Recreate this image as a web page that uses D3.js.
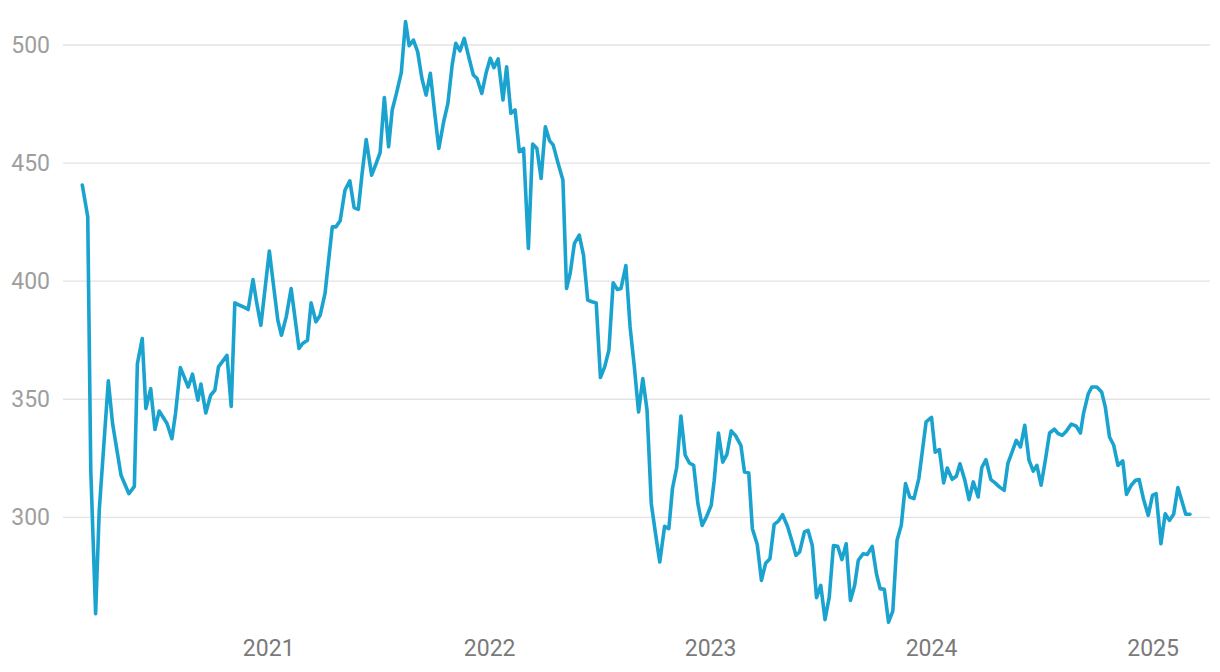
<!DOCTYPE html>
<html>
<head>
<meta charset="utf-8">
<script src="https://cdn.jsdelivr.net/npm/d3@7"></script>
<style>
  html, body { margin: 0; padding: 0; background: #ffffff; }
  svg { display: block; font-family: Roboto, "Noto Sans", sans-serif; }
</style>
</head>
<body>
<svg id="chart" width="1220" height="672"></svg>
<script>
const dates = [
"2020-02-28","2020-03-08","2020-03-13","2020-03-21","2020-03-27","2020-04-11","2020-04-18","2020-05-02","2020-05-15","2020-05-24",
"2020-05-29","2020-06-06","2020-06-12","2020-06-20","2020-06-27","2020-07-04","2020-07-17","2020-07-25","2020-07-31","2020-08-08",
"2020-08-21","2020-08-28","2020-09-06","2020-09-11","2020-09-19","2020-09-27","2020-10-04","2020-10-10","2020-10-24","2020-10-31",
"2020-11-06","2020-11-14","2020-11-21","2020-11-28","2020-12-06","2020-12-12","2020-12-19","2020-12-26","2021-01-02","2021-01-09",
"2021-01-16","2021-01-22","2021-01-30","2021-02-07","2021-02-20","2021-02-26","2021-03-06","2021-03-12","2021-03-20","2021-03-27",
"2021-04-04","2021-04-10","2021-04-16","2021-04-22","2021-04-29","2021-05-07","2021-05-15","2021-05-22","2021-05-29","2021-06-04",
"2021-06-11","2021-06-20","2021-06-27","2021-07-04","2021-07-11","2021-07-18","2021-07-24","2021-07-31","2021-08-08","2021-08-15",
"2021-08-21","2021-08-28","2021-09-04","2021-09-11","2021-09-18","2021-09-25","2021-10-02","2021-10-09","2021-10-17","2021-10-24",
"2021-10-31","2021-11-06","2021-11-13","2021-11-20","2021-11-28","2021-12-05","2021-12-11","2021-12-19","2021-12-26","2022-01-02",
"2022-01-08","2022-01-15","2022-01-23","2022-01-29","2022-02-05","2022-02-12","2022-02-19","2022-02-26","2022-03-06","2022-03-13",
"2022-03-20","2022-03-27","2022-04-03","2022-04-10","2022-04-16","2022-04-24","2022-05-02","2022-05-08","2022-05-14","2022-05-21",
"2022-05-29","2022-06-05","2022-06-12","2022-06-19","2022-06-26","2022-07-03","2022-07-10","2022-07-17","2022-07-24","2022-07-31",
"2022-08-06","2022-08-14","2022-08-21","2022-08-28","2022-09-04","2022-09-11","2022-09-18","2022-09-25","2022-10-02","2022-10-09",
"2022-10-17","2022-10-24","2022-10-30","2022-11-06","2022-11-13","2022-11-20","2022-11-27","2022-12-04","2022-12-11","2022-12-18",
"2022-12-25","2023-01-02","2023-01-07","2023-01-14","2023-01-21","2023-01-28","2023-02-04","2023-02-11","2023-02-20","2023-02-26",
"2023-03-05","2023-03-11","2023-03-19","2023-03-26","2023-04-02","2023-04-09","2023-04-16","2023-04-23","2023-04-30","2023-05-08",
"2023-05-15","2023-05-22","2023-05-28","2023-06-05","2023-06-11","2023-06-18","2023-06-25","2023-07-02","2023-07-09","2023-07-16",
"2023-07-23","2023-07-30","2023-08-06","2023-08-13","2023-08-20","2023-08-27","2023-09-02","2023-09-10","2023-09-17","2023-09-25",
"2023-10-02","2023-10-08","2023-10-15","2023-10-22","2023-10-29","2023-11-05","2023-11-12","2023-11-19","2023-11-26","2023-12-03",
"2023-12-11","2023-12-17","2023-12-23","2024-01-01","2024-01-07","2024-01-14","2024-01-21","2024-01-27","2024-02-04","2024-02-11",
"2024-02-17","2024-02-25","2024-03-03","2024-03-10","2024-03-18","2024-03-24","2024-03-31","2024-04-08","2024-04-15","2024-04-22",
"2024-04-30","2024-05-06","2024-05-13","2024-05-20","2024-05-27","2024-06-03","2024-06-10","2024-06-17","2024-06-23","2024-06-30",
"2024-07-07","2024-07-14","2024-07-22","2024-07-28","2024-08-04","2024-08-11","2024-08-19","2024-08-27","2024-09-03","2024-09-08",
"2024-09-16","2024-09-22","2024-09-30","2024-10-08","2024-10-14","2024-10-21","2024-10-28","2024-11-04","2024-11-12","2024-11-18",
"2024-11-26","2024-12-03","2024-12-09","2024-12-16","2024-12-24","2024-12-31","2025-01-06","2025-01-14","2025-01-21","2025-01-28",
"2025-02-04","2025-02-11","2025-02-24","2025-03-03"
];

const values = [
440.7,427.3,320,259.2,303,357.8,339.7,317.8,310,313.1,
365.1,375.7,346.1,354.5,337.2,345,339.7,333.3,344,363.4,
355.2,360.6,349.6,356.4,344.2,351.7,353.8,363.7,368.6,347,
390.8,389.8,389,388,400.7,391,381.3,397,412.8,398,
383.5,377.1,385,396.9,371.5,373.6,375,390.8,382.8,385.6,
394.8,409,423,423,425.6,438.6,442.5,431.2,430.4,445,
460,444.9,449.5,454.4,477.8,456.9,472.5,479.5,488.3,509.9,
499.7,502.1,497.2,485.9,478.8,488,471.7,456.2,467.5,475.3,
491.5,500.7,497.5,502.8,494.4,487.3,485.9,479.5,488,494.4,
490.4,494.1,476.7,490.8,471.1,472.5,454.8,456.2,413.9,458.1,
456.2,443.5,465.4,459.5,457.6,449.9,442.8,396.9,403.3,416,
419.5,411,392,391.3,390.8,359.2,363.7,370.8,399.3,396.5,
396.9,406.6,380.6,363.7,344.6,358.8,345.3,305.8,293.1,281.1,
296.2,295.2,312.2,321.1,342.9,326.3,323,322,305.8,296.6,
300.1,305.1,315.7,335.7,323.4,326.7,336.6,334.7,330.5,319.2,
318.8,295.2,288.6,273.3,280.6,282.5,297,298.4,301.1,296.2,
290.3,283.9,285.3,293.8,294.5,288.1,266,271.2,256.7,266.2,
288.1,287.7,282.1,288.8,264.8,271.2,281.8,284.6,284.3,287.7,
276.1,269.8,269.5,255.6,260.3,290.3,296.6,314.3,308.6,307.9,
316.4,328.4,340.4,342.3,327.6,328.7,314.6,320.9,316.1,317.4,
322.7,315.7,307.5,315,308.6,321.1,324.4,316,314.6,312.9,
311.4,322.7,327.6,332.6,329.8,339,324.2,319.6,322,313.6,
324.2,335.7,337.3,335.5,334.7,336.6,339.5,338.6,335.7,343.9,
352.4,355.2,355.2,353.1,346.8,334,330.5,322,323.9,309.7,
313.6,315.7,316,307.9,300.8,309.3,310,288.8,301.5,298.7,
301.3,312.6,301.3,301.3
];

const yTicks = [300, 350, 400, 450, 500];
const xTickYears = ["2021", "2022", "2023", "2024", "2025"];

const parse = d3.timeParse("%Y-%m-%d");
const data = dates.map((d, i) => ({ date: parse(d), value: values[i] }));

const svg = d3.select("#chart");

const x = d3.scaleTime()
  .domain(d3.extent(data, d => d.date))
  .range([82.3, 1190]);

const y = d3.scaleLinear()
  .domain([255, 510])
  .range([623.6, 21.4]);

// gridlines + y labels
const yAxis = svg.append("g").attr("class", "y-axis");
yTicks.forEach(t => {
  yAxis.append("line")
    .attr("x1", 63).attr("x2", 1210)
    .attr("y1", y(t)).attr("y2", y(t))
    .attr("stroke", "#e3e3e3")
    .attr("stroke-width", 1.3);
  yAxis.append("text")
    .attr("x", 50)
    .attr("y", y(t))
    .attr("dy", "0.35em")
    .attr("text-anchor", "end")
    .attr("fill", "#9e9e9e")
    .attr("font-size", 23)
    .text(t);
});

// x labels
const xAxis = svg.append("g").attr("class", "x-axis");
xTickYears.forEach(yr => {
  const dt = parse(yr + "-01-01");
  xAxis.append("text")
    .attr("x", x(dt))
    .attr("y", 648)
    .attr("dy", "0.35em")
    .attr("text-anchor", "middle")
    .attr("fill", "#7a7a7a")
    .attr("font-size", 23)
    .text(yr);
});

const line = d3.line()
  .x(d => x(d.date))
  .y(d => y(d.value));

svg.append("path")
  .datum(data)
  .attr("fill", "none")
  .attr("stroke", "#1ba3d0")
  .attr("stroke-width", 3.6)
  .attr("stroke-linejoin", "round")
  .attr("stroke-linecap", "round")
  .attr("d", line);
</script>
</body>
</html>
